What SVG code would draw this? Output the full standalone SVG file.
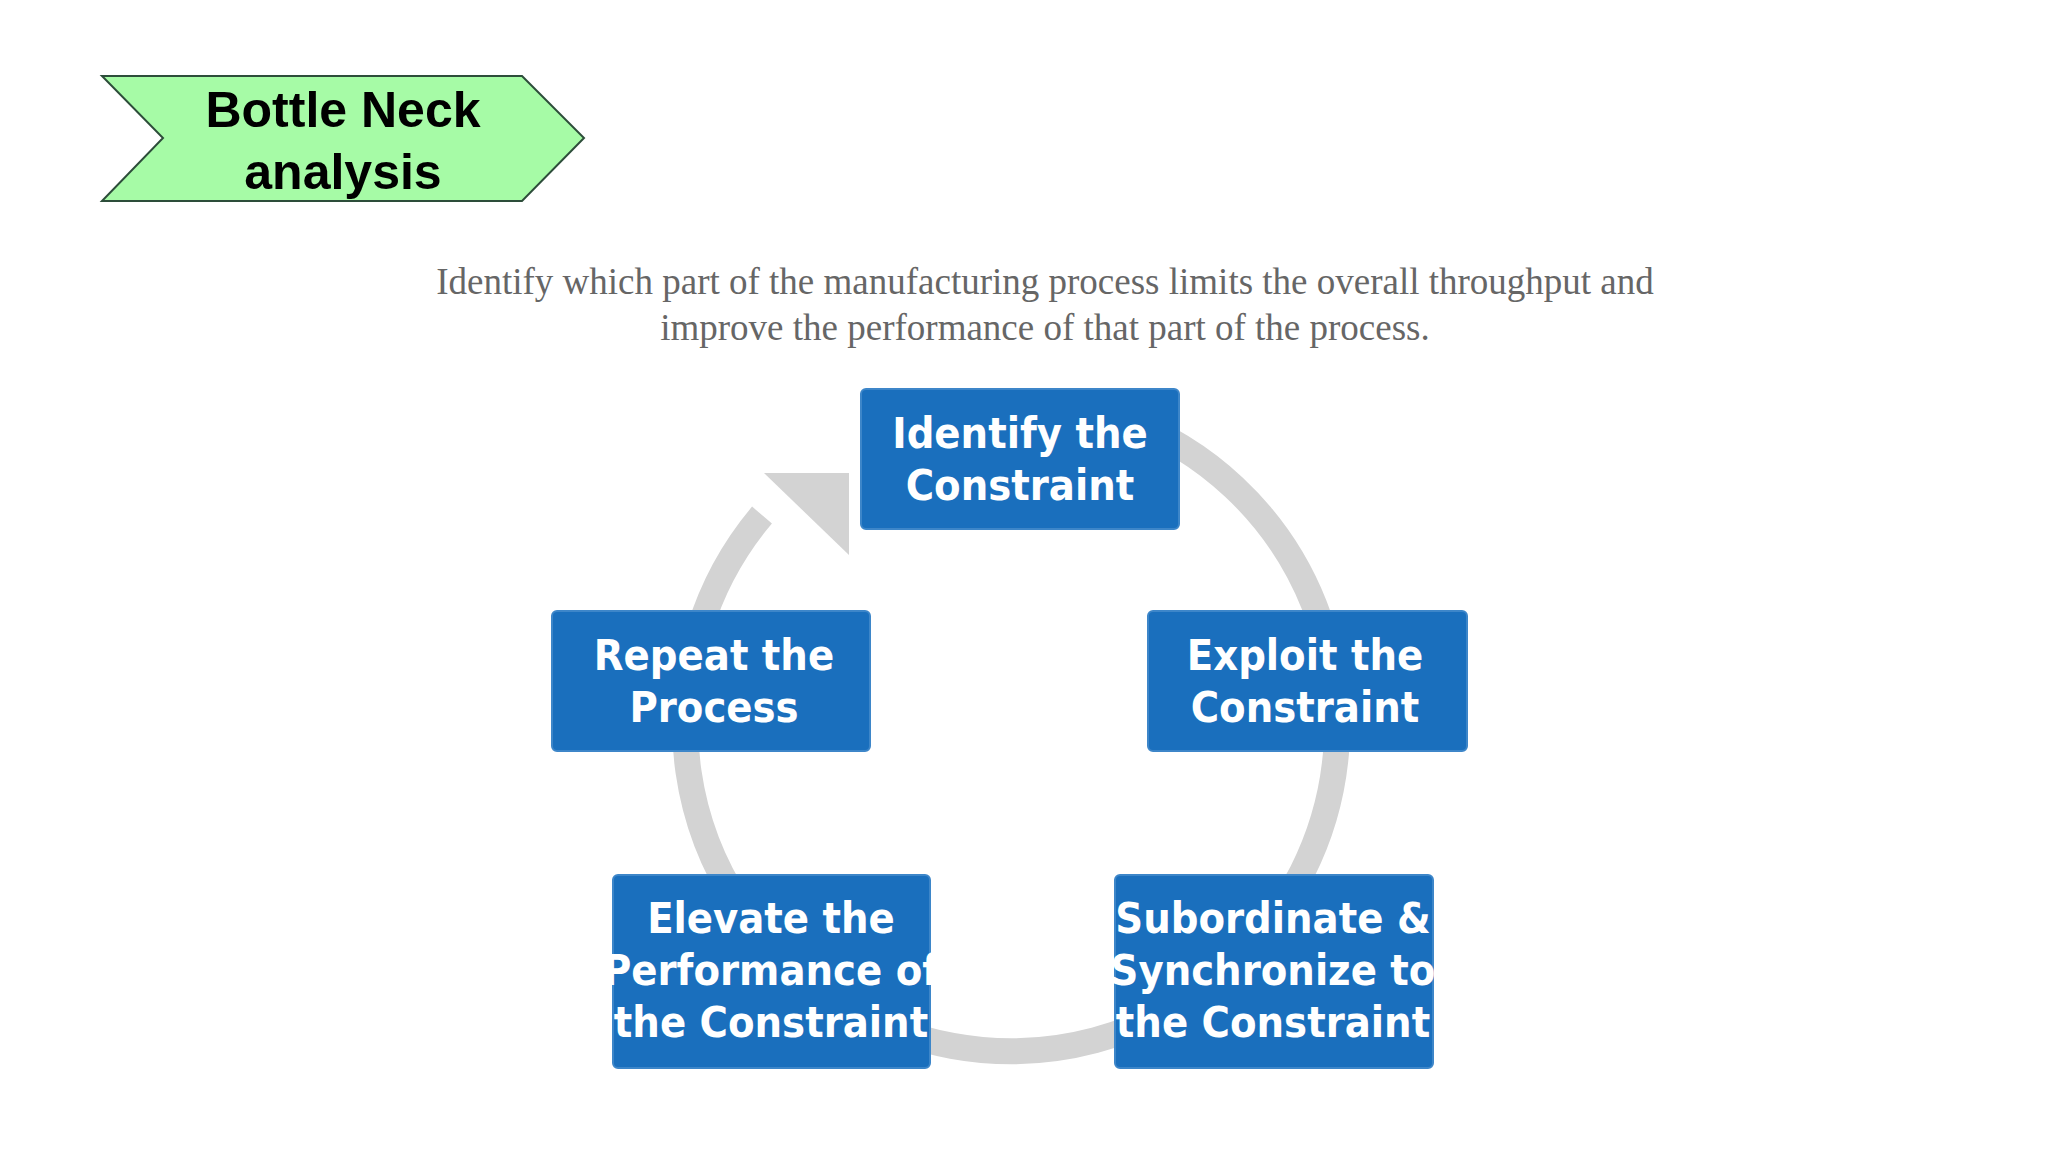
<svg xmlns="http://www.w3.org/2000/svg" width="2048" height="1152" viewBox="0 0 2048 1152">
<style>
.box{fill:#1a6fbd;stroke:#3d86c9;stroke-width:2}
.bt{fill:#fff;font-family:"DejaVu Sans Condensed","DejaVu Sans",sans-serif;font-weight:bold;font-size:43px;text-anchor:middle}
</style>
<rect width="2048" height="1152" fill="#fff"/>
<g id="title">
<polygon points="102,76 522,76 584,138 522,201 102,201 163,138" fill="#a6fba6" stroke="#2d4d3a" stroke-width="2"/>
<text x="343" y="127" font-family="Liberation Sans,Arial,sans-serif" font-weight="bold" font-size="50" text-anchor="middle">Bottle Neck</text>
<text x="343" y="189" font-family="Liberation Sans,Arial,sans-serif" font-weight="bold" font-size="50" text-anchor="middle">analysis</text>
</g>
<g id="subtitle" font-family="Liberation Serif,serif" font-size="37" fill="#666" text-anchor="middle">
<text x="1045" y="294">Identify which part of the manufacturing process limits the overall throughput and</text>
<text x="1045" y="340">improve the performance of that part of the process.</text>
</g>
<g id="connectors">
<path d="M762,515 A326,326 0 1 0 1123,419" fill="none" stroke="#d3d3d3" stroke-width="26"/>
<polygon points="764,473 849,473 849,555" fill="#d3d3d3"/>
</g>
<g id="identify"><rect class="box" x="861" y="389" width="318" height="140" rx="5"/>
<text class="bt" x="1020" y="448">Identify the</text><text class="bt" x="1020" y="500">Constraint</text></g>
<g id="exploit"><rect class="box" x="1148" y="611" width="319" height="140" rx="5"/>
<text class="bt" x="1305" y="670">Exploit the</text><text class="bt" x="1305" y="722">Constraint</text></g>
<g id="subordinate"><rect class="box" x="1115" y="875" width="318" height="193" rx="5"/>
<text class="bt" x="1273" y="933">Subordinate &amp;</text><text class="bt" x="1273" y="985">Synchronize to</text><text class="bt" x="1273" y="1037">the Constraint</text></g>
<g id="elevate"><rect class="box" x="613" y="875" width="317" height="193" rx="5"/>
<text class="bt" x="771" y="933">Elevate the</text><text class="bt" x="771" y="985">Performance of</text><text class="bt" x="771" y="1037">the Constraint</text></g>
<g id="repeat"><rect class="box" x="552" y="611" width="318" height="140" rx="5"/>
<text class="bt" x="714" y="670">Repeat the</text><text class="bt" x="714" y="722">Process</text></g>
</svg>
